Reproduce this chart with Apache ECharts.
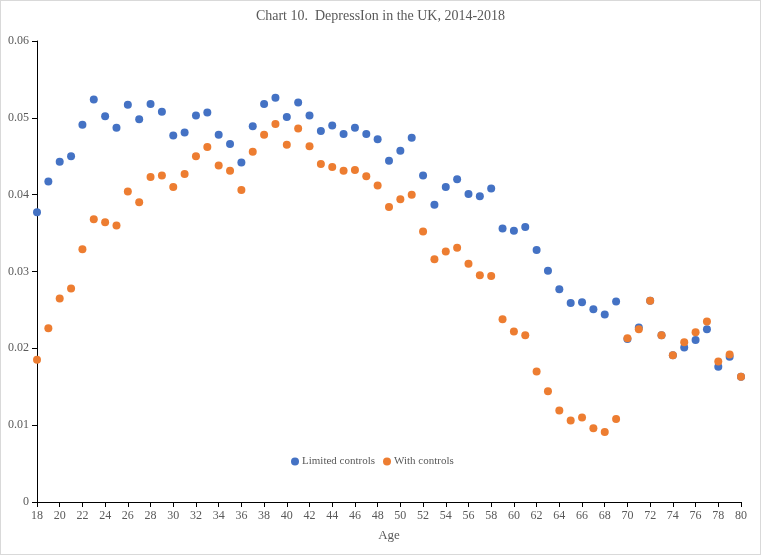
<!DOCTYPE html>
<html>
<head>
<meta charset="utf-8">
<script src="https://cdn.jsdelivr.net/npm/echarts@6/dist/echarts.min.js"></script>
<style>
html,body{margin:0;padding:0;background:#fff;}
#chart{width:761px;height:555px;box-sizing:border-box;border:1px solid #d9d9d9;}
</style>
</head>
<body>
<div id="chart"></div>
<script>
const ages = [18,19,20,21,22,23,24,25,26,27,28,29,30,31,32,33,34,35,36,37,38,39,40,41,42,43,44,45,46,47,48,49,50,51,52,53,54,55,56,57,58,59,60,61,62,63,64,65,66,67,68,69,70,71,72,73,74,75,76,77,78,79,80];
const limitedControls = [0.0377,0.0417,0.0443,0.0450,0.0491,0.0524,0.0502,0.0487,0.0517,0.0498,0.0518,0.0508,0.0477,0.0481,0.0503,0.0507,0.0478,0.0466,0.0442,0.0489,0.0518,0.0526,0.0501,0.0520,0.0503,0.0483,0.0490,0.0479,0.0487,0.0479,0.0472,0.0444,0.0457,0.0474,0.0425,0.0387,0.0410,0.0420,0.0401,0.0398,0.0408,0.0356,0.0353,0.0358,0.0328,0.0301,0.0277,0.0259,0.0260,0.0251,0.0244,0.0261,0.0212,0.0227,0.0262,0.0217,0.0191,0.0201,0.0211,0.0225,0.0176,0.0189,0.0163];
const withControls = [0.0185,0.0226,0.0265,0.0278,0.0329,0.0368,0.0364,0.0360,0.0404,0.0390,0.0423,0.0425,0.0410,0.0427,0.0450,0.0462,0.0438,0.0431,0.0406,0.0456,0.0478,0.0492,0.0465,0.0486,0.0463,0.0440,0.0436,0.0431,0.0432,0.0424,0.0412,0.0384,0.0394,0.0400,0.0352,0.0316,0.0326,0.0331,0.0310,0.0295,0.0294,0.0238,0.0222,0.0217,0.0170,0.0144,0.0119,0.0106,0.0110,0.0096,0.0091,0.0108,0.0213,0.0225,0.0262,0.0217,0.0191,0.0208,0.0221,0.0235,0.0183,0.0192,0.0163];
const seriesNames = ['Limited controls','With controls'];
const titleText = 'Chart 10.  DepressIon in the UK, 2014-2018';
const xAxisName = 'Age';

const chart = echarts.init(document.getElementById('chart'));
const font = '"Liberation Serif", "Times New Roman", serif';
chart.setOption({
  animation: false,
  backgroundColor: '#fff',
  textStyle: {fontFamily: font},
  title: {
    text: titleText, left: 'center', top: 3,
    textStyle: {fontFamily: font, fontSize: 14, fontWeight: 'normal', color: '#595959'}
  },
  legend: {
    left: 285, top: 450,
    icon: 'circle', itemWidth: 8, itemHeight: 8, itemGap: 8,
    textStyle: {fontFamily: font, fontSize: 11, color: '#595959', padding: [0, 0, 0, -2]},
    data: seriesNames
  },
  grid: {left: 36, right: 19, top: 40, bottom: 52, containLabel: false},
  xAxis: {
    type: 'value', min: 18, max: 80, interval: 2,
    name: xAxisName, nameLocation: 'middle', nameGap: 27,
    nameTextStyle: {fontFamily: font, fontSize: 13, color: '#595959'},
    axisLine: {show: true, lineStyle: {color: '#000', width: 1}},
    axisTick: {show: true, length: 5, lineStyle: {color: '#000'}},
    axisLabel: {fontFamily: font, fontSize: 12, color: '#595959', margin: 8},
    splitLine: {show: false}
  },
  yAxis: {
    type: 'value', min: 0, max: 0.06, interval: 0.01,
    axisLine: {show: true, lineStyle: {color: '#000', width: 1}},
    axisTick: {show: true, length: 5, lineStyle: {color: '#000'}},
    axisLabel: {fontFamily: font, fontSize: 12, color: '#595959', margin: 8,
      formatter: v => v === 0 ? '0' : v.toFixed(2)},
    splitLine: {show: false}
  },
  series: [
    {name: seriesNames[0], type: 'scatter', symbolSize: 8,
     itemStyle: {color: '#4472C4', opacity: 1},
     data: ages.map((a, i) => [a, limitedControls[i]])},
    {name: seriesNames[1], type: 'scatter', symbolSize: 8,
     itemStyle: {color: '#ED7D31', opacity: 1},
     data: ages.map((a, i) => [a, withControls[i]])}
  ]
});
</script>
</body>
</html>
